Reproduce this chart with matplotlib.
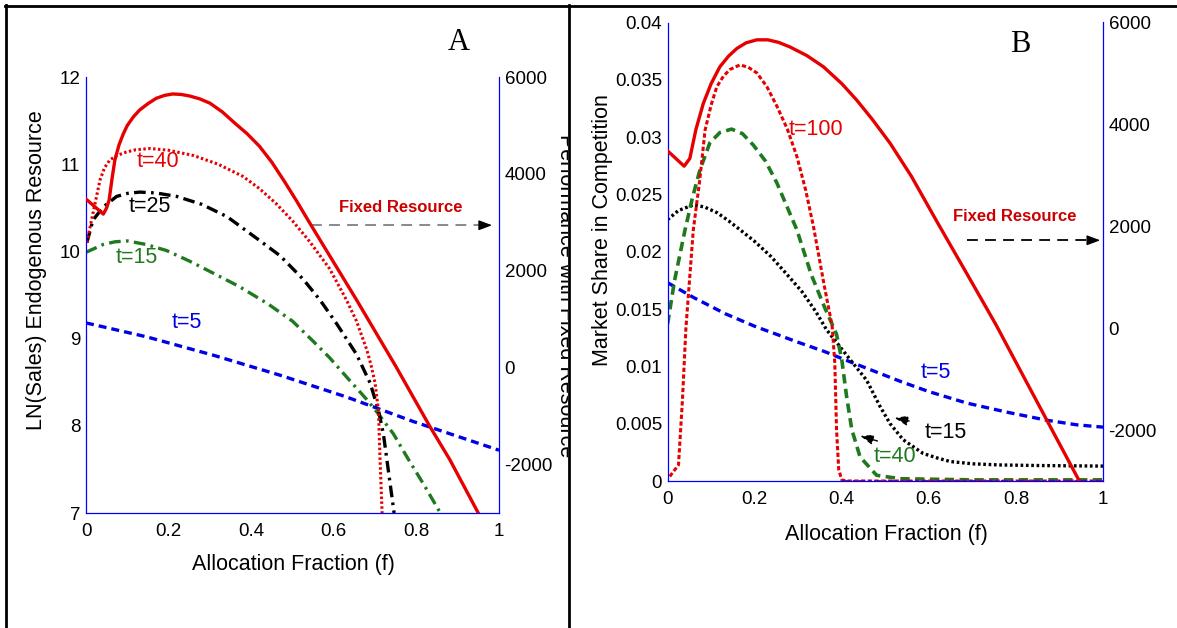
import numpy as np
import matplotlib.pyplot as plt
from matplotlib.lines import Line2D
from matplotlib.transforms import Bbox, TransformedBbox

plt.rcParams['font.family'] = ['Liberation Sans', 'DejaVu Sans']

W, H = 1177, 628

# ---- panel A data (left axis: LN(Sales), right axis: performance) ----
f_fixed_a = [0, 0.042, 0.050, 0.056, 0.063, 0.070, 0.080, 0.090, 0.100, 0.115, 0.130, 0.150,
             0.170, 0.190, 0.210, 0.230, 0.250, 0.275, 0.300, 0.330, 0.360, 0.390, 0.420,
             0.450, 0.480, 0.510, 0.540, 0.600, 0.655, 0.750, 0.833, 0.881, 0.951]
perf_fixed_a = [3480, 3170, 3300, 3460, 3900, 4290, 4600, 4820, 5000, 5180, 5320, 5450,
                5560, 5620, 5650, 5640, 5610, 5550, 5460, 5280, 5050, 4830, 4570,
                4240, 3850, 3440, 3010, 2170, 1400, 30, -1220, -1900, -3020]

f_t40_a = [0.002, 0.017, 0.034, 0.045, 0.058, 0.075, 0.098, 0.12, 0.155, 0.20, 0.26, 0.32,
           0.38, 0.42, 0.46, 0.50, 0.542, 0.59, 0.631, 0.655, 0.680, 0.69, 0.700, 0.708,
           0.712, 0.717]
ln_t40_a = [10.10, 10.44, 10.82, 10.96, 11.05, 11.10, 11.14, 11.165, 11.18, 11.16, 11.10, 11.0,
            10.86, 10.72, 10.55, 10.35, 10.11, 9.80, 9.44, 9.2, 8.87, 8.7, 8.49, 8.18,
            7.61, 7.0]

f_t25_a = [0.002, 0.017, 0.042, 0.074, 0.10, 0.13, 0.17, 0.22, 0.28, 0.341, 0.419, 0.47, 0.526,
           0.567, 0.607, 0.655, 0.688, 0.708, 0.72, 0.728, 0.746]
ln_t25_a = [10.10, 10.36, 10.51, 10.63, 10.665, 10.68, 10.67, 10.63, 10.54, 10.40, 10.13, 9.95,
            9.68, 9.44, 9.17, 8.82, 8.49, 8.18, 7.91, 7.63, 7.0]

f_t15_a = [0, 0.042, 0.07, 0.1, 0.145, 0.195, 0.25, 0.30, 0.37, 0.44, 0.50, 0.55, 0.59, 0.631,
           0.68, 0.704, 0.744, 0.78, 0.82, 0.858]
ln_t15_a = [9.99, 10.08, 10.11, 10.12, 10.08, 10.01, 9.89, 9.77, 9.60, 9.40, 9.20, 8.97, 8.78,
            8.56, 8.30, 8.16, 7.91, 7.62, 7.31, 7.0]

f_t5_a = [0, 0.147, 0.308, 0.470, 0.631, 0.792, 1.0]
ln_t5_a = [9.18, 9.02, 8.81, 8.58, 8.33, 8.05, 7.72]

# ---- panel B data (left axis: market share, right axis: performance) ----
f_fixed_b = [0, 0.038, 0.051, 0.065, 0.082, 0.100, 0.120, 0.140, 0.159, 0.180, 0.205, 0.230,
             0.255, 0.281, 0.320, 0.358, 0.400, 0.434, 0.470, 0.511, 0.560, 0.618, 0.700,
             0.754, 0.870, 0.945]
perf_fixed_b = [3480, 3180, 3330, 3900, 4410, 4800, 5130, 5340, 5490, 5600, 5660, 5660,
                5610, 5520, 5350, 5130, 4800, 4480, 4100, 3630, 2980, 2100, 880,
                70, -1790, -2990]

f_t100_b = [0.005, 0.025, 0.034, 0.042, 0.059, 0.074, 0.086, 0.100, 0.113, 0.128, 0.143, 0.166,
            0.185, 0.205, 0.228, 0.251, 0.275, 0.297, 0.317, 0.335, 0.36, 0.378, 0.384, 0.388,
            0.393, 0.400, 0.41, 1.0]
ms_t100_b = [0.0004, 0.0014, 0.0070, 0.0133, 0.0219, 0.0263, 0.0306, 0.0328, 0.0344, 0.0353,
             0.0359, 0.0363, 0.0361, 0.0356, 0.0344, 0.0327, 0.0307, 0.0283, 0.0254, 0.0222,
             0.0170, 0.0135, 0.0103, 0.0045, 0.0010, 0.0001, 0.0, 0.0]

f_t40_b = [0, 0.016, 0.040, 0.057, 0.074, 0.097, 0.12, 0.147, 0.172, 0.197, 0.225, 0.251,
           0.297, 0.33, 0.36, 0.388, 0.400, 0.411, 0.423, 0.442, 0.48, 0.534, 0.7, 1.0]
ms_t40_b = [0.0137, 0.0175, 0.0219, 0.0247, 0.0271, 0.0295, 0.0304, 0.0307, 0.0303, 0.0293,
            0.0279, 0.0260, 0.0219, 0.0180, 0.0152, 0.0128, 0.0106, 0.0074, 0.0045, 0.0021,
            0.0005, 0.0002, 0.0001, 0.0001]

f_t15_b = [0, 0.025, 0.06, 0.085, 0.114, 0.14, 0.167, 0.20, 0.237, 0.27, 0.309, 0.34, 0.365,
           0.419, 0.457, 0.488, 0.511, 0.541, 0.587, 0.62, 0.649, 0.70, 0.763, 0.85, 1.0]
ms_t15_b = [0.0228, 0.0236, 0.0241, 0.0239, 0.0234, 0.0227, 0.0219, 0.0209, 0.0196, 0.0182,
            0.0165, 0.0148, 0.0132, 0.0106, 0.0088, 0.0065, 0.0050, 0.0036, 0.0024, 0.0020,
            0.0017, 0.0015, 0.0014, 0.00135, 0.0013]

f_t5_b = [0, 0.06, 0.132, 0.2, 0.30, 0.36, 0.419, 0.48, 0.534, 0.6, 0.687, 0.78, 0.871, 0.94, 1.0]
ms_t5_b = [0.0173, 0.0160, 0.0146, 0.0135, 0.0121, 0.0113, 0.0104, 0.0095, 0.0087, 0.0078,
           0.0068, 0.0060, 0.0053, 0.0049, 0.0047]

f_zero_b = [0.40, 1.0]
ms_zero_b = [0.0, 0.0]

x_ticks = [0, 0.2, 0.4, 0.6, 0.8, 1]
x_labels = ['0', '0.2', '0.4', '0.6', '0.8', '1']
perf_ticks = [-2000, 0, 2000, 4000, 6000]
ln_ticks = [7, 8, 9, 10, 11, 12]
ms_ticks = [0, 0.005, 0.01, 0.015, 0.02, 0.025, 0.03, 0.035, 0.04]
ms_labels = ['0', '0.005', '0.01', '0.015', '0.02', '0.025', '0.03', '0.035', '0.04']

RED = '#e60000'
DKRED = '#cc0000'
GREEN = '#1f7a1f'
BLUE = '#0000e6'
SPINE = '#0000ff'

fig = plt.figure(figsize=(W / 100, H / 100), dpi=100)


def rect(x0, y0, x1, y1):
    return [x0 / W, 1 - y1 / H, (x1 - x0) / W, (y1 - y0) / H]


def style(ax, ax2):
    for a in (ax, ax2):
        a.set_xlim(0, 1)
        a.tick_params(length=0, labelsize=13.5)
        for s in a.spines.values():
            s.set_visible(False)
    for a, side in ((ax, 'left'), (ax, 'bottom'), (ax2, 'right')):
        a.spines[side].set_visible(True)
        a.spines[side].set_color(SPINE)
        a.spines[side].set_linewidth(0.9)
    ax.set_xticks(x_ticks)
    ax.set_xticklabels(x_labels)
    ax.tick_params(axis='x', pad=7)
    ax.tick_params(axis='y', pad=4)
    ax2.tick_params(axis='y', pad=4)
    ax2.set_ylim(-3000, 6000)
    ax2.set_yticks(perf_ticks)
    ax2.set_yticklabels([str(t) for t in perf_ticks])
    ax.set_xlabel('Allocation Fraction (f)', fontsize=15.5)


# ---------------- Panel A ----------------
ax_a = fig.add_axes(rect(86, 77, 499, 513))
ax_a2 = ax_a.twinx()
style(ax_a, ax_a2)
ax_a.set_ylim(7, 12)
ax_a.set_yticks(ln_ticks)
ax_a.set_yticklabels([str(t) for t in ln_ticks])
ax_a.set_ylabel('LN(Sales) Endogenous Resource', fontsize=15.5)
ax_a.yaxis.set_label_coords(-0.094, 0.557)
ax_a.xaxis.set_label_coords(0.503, -0.095)

ax_a.plot(f_t5_a, ln_t5_a, color=BLUE, lw=2.4, ls=(0, (2.4, 1.5)))
ax_a.plot(f_t15_a, ln_t15_a, color=GREEN, lw=2.4, ls=(0, (3.5, 1.6, 0.8, 1.6)))
ax_a.plot(f_t25_a, ln_t25_a, color='black', lw=2.4, ls=(0, (3.5, 1.6, 0.8, 1.6)))
ax_a.plot(f_t40_a, ln_t40_a, color=RED, lw=2.2, ls=(0, (0.8, 0.8)))
ax_a2.plot(f_fixed_a, perf_fixed_a, color=RED, lw=2.4)

ax_a.text(0.174, 11.03, 't=40', color=RED, fontsize=15.5, ha='center', va='center')
ax_a.text(0.155, 10.52, 't=25', color='black', fontsize=15.5, ha='center', va='center')
ax_a.text(0.123, 9.93, 't=15', color=GREEN, fontsize=15.5, ha='center', va='center')
ax_a.text(0.245, 9.19, 't=5', color=BLUE, fontsize=15.5, ha='center', va='center')
ax_a.text(0.763, 10.50, 'Fixed Resource', color=DKRED, fontsize=12, fontweight='bold',
          ha='center', va='center')
ax_a.plot([0.545, 0.965], [10.30, 10.30], color='#808080', lw=1.3, ls=(0, (6, 4)))
ax_a.annotate('', xy=(0.99, 10.30), xytext=(0.955, 10.30),
              arrowprops=dict(arrowstyle='-|>,head_length=0.8,head_width=0.3',
                              color='black', lw=1))

# right-axis label of panel A is cut off by the table border
rlab = fig.text(560 / W, 1 - 296 / H, 'Performance with Fixed Resource', rotation=-90,
                rotation_mode='anchor', fontsize=15.5, ha='center', va='baseline')
rlab.set_clip_box(TransformedBbox(Bbox([[0, 0], [567.5 / W, 1]]), fig.transFigure))
rlab.set_clip_on(True)

# ---------------- Panel B ----------------
ax_b = fig.add_axes(rect(667.6, 22.5, 1103, 481))
ax_b2 = ax_b.twinx()
style(ax_b, ax_b2)
ax_b.set_ylim(0, 0.04)
ax_b.set_yticks(ms_ticks)
ax_b.set_yticklabels(ms_labels)
ax_b.set_ylabel('Market Share in Competition', fontsize=15.5)
ax_b.yaxis.set_label_coords(-0.126, 0.547)
ax_b.xaxis.set_label_coords(0.503, -0.094)

ax_b.plot(f_t5_b, ms_t5_b, color=BLUE, lw=2.4, ls=(0, (2.4, 1.5)))
ax_b.plot(f_t15_b, ms_t15_b, color='black', lw=2.4, ls=(0, (0.8, 0.8)))
ax_b.plot(f_t40_b, ms_t40_b, color=GREEN, lw=2.6, ls=(0, (2.6, 1.5)))
ax_b.plot(f_t100_b, ms_t100_b, color=RED, lw=2.2, ls=(0, (1.4, 0.8)))
ax_b.plot(f_zero_b, ms_zero_b, color='#800060', lw=2.0, ls=(0, (2.5, 1.2, 0.8, 1.2)))
ax_b2.plot(f_fixed_b, perf_fixed_b, color=RED, lw=2.4)

ax_b.text(0.340, 0.0307, 't=100', color=RED, fontsize=15.5, ha='center', va='center')
ax_b.text(0.616, 0.00947, 't=5', color=BLUE, fontsize=15.5, ha='center', va='center')
ax_b.text(0.638, 0.00423, 't=15', color='black', fontsize=15.5, ha='center', va='center')
ax_b.text(0.521, 0.00214, 't=40', color=GREEN, fontsize=15.5, ha='center', va='center')
ax_b.text(0.798, 0.0231, 'Fixed Resource', color=DKRED, fontsize=12, fontweight='bold',
          ha='center', va='center')
for tip, tail in (((0.515, 0.00556), (0.561, 0.00518)), ((0.436, 0.00401), (0.488, 0.00342))):
    ax_b.annotate('', xy=tip, xytext=tail,
                  arrowprops=dict(arrowstyle='-|>,head_length=0.8,head_width=0.3',
                                  color='black', lw=1, ls=(0, (3, 3))))
ax_b.plot([0.688, 0.975], [0.0210, 0.0210], color='black', lw=1.3, ls=(0, (6, 4)))
ax_b.annotate('', xy=(1.0, 0.0210), xytext=(0.965, 0.0210),
              arrowprops=dict(arrowstyle='-|>,head_length=0.8,head_width=0.3',
                              color='black', lw=1))

# panel letters
fig.text(458.7 / W, 1 - 42 / H, 'A', fontsize=22, family='Liberation Serif',
         ha='center', va='center')
fig.text(1020 / W, 1 - 44 / H, 'B', fontsize=22, family='Liberation Serif',
         ha='center', va='center')

# table borders
for xs, ys in (([5, W], [6, 6]), ([6, 6], [5, H]), ([569, 569], [5, H])):
    fig.add_artist(Line2D([x / W for x in xs], [1 - y / H for y in ys],
                          transform=fig.transFigure, color='black', lw=2))

fig.savefig('out.png', dpi=100)
